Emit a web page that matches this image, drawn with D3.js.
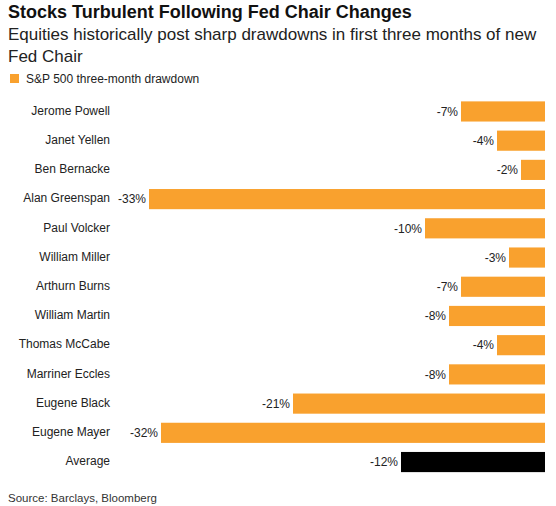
<!DOCTYPE html>
<html>
<head>
<meta charset="utf-8">
<script src="https://cdn.jsdelivr.net/npm/d3@7"></script>
<style>
  body { margin: 0; background: #fff; }
  svg { font-family: "Liberation Sans", Arial, sans-serif; }
</style>
</head>
<body>
<div id="chart"></div>
<script>
var chairs = ["Jerome Powell", "Janet Yellen", "Ben Bernacke", "Alan Greenspan", "Paul Volcker",
    "William Miller", "Arthurn Burns", "William Martin", "Thomas McCabe", "Marriner Eccles",
    "Eugene Black", "Eugene Mayer", "Average"];
var drawdown = [-7, -4, -2, -33, -10, -3, -7, -8, -4, -8, -21, -32, -12];
var valueLabels = ["-7%", "-4%", "-2%", "-33%", "-10%", "-3%", "-7%", "-8%", "-4%", "-8%", "-21%", "-32%", "-12%"];

var width = 556, height = 506;
var orange = "#f9a12e";

var svg = d3.select("#chart").append("svg")
    .attr("width", width)
    .attr("height", height);

// header
svg.append("text")
    .attr("x", 8).attr("y", 17.5)
    .style("font-size", "18px").style("font-weight", "bold")
    .attr("fill", "#111")
    .text("Stocks Turbulent Following Fed Chair Changes");

var sub = ["Equities historically post sharp drawdowns in first three months of new", "Fed Chair"];
svg.selectAll("text.sub")
    .data(sub)
    .enter().append("text")
    .attr("class", "sub")
    .attr("x", 8)
    .attr("y", function (d, i) { return 40 + i * 22; })
    .style("font-size", "17px")
    .attr("fill", "#222")
    .text(function (d) { return d; });

// legend
svg.append("rect")
    .attr("x", 10).attr("y", 74).attr("width", 9).attr("height", 9)
    .attr("fill", orange);
svg.append("text")
    .attr("x", 26).attr("y", 83)
    .style("font-size", "12px")
    .attr("fill", "#222")
    .text("S&P 500 three-month drawdown");

var x = d3.scaleLinear()
    .domain([-33, 0])
    .range([149, 545]);

var y = d3.scaleBand()
    .domain(chairs)
    .range([97, 476.5])
    .paddingInner(0.31)
    .paddingOuter(0.15);

var rows = svg.selectAll("g.row")
    .data(chairs)
    .enter().append("g")
    .attr("class", "row");

rows.append("rect")
    .attr("x", function (d, i) { return x(drawdown[i]); })
    .attr("y", function (d) { return y(d); })
    .attr("width", function (d, i) { return x(0) - x(drawdown[i]); })
    .attr("height", y.bandwidth())
    .attr("fill", function (d) { return d === "Average" ? "#000" : orange; });

rows.append("text")
    .attr("x", 110)
    .attr("y", function (d) { return y(d) + y.bandwidth() / 2 - 1; })
    .attr("dy", "0.35em")
    .attr("text-anchor", "end")
    .style("font-size", "12px")
    .attr("fill", "#222")
    .text(function (d) { return d; });

rows.append("text")
    .attr("x", function (d, i) { return x(drawdown[i]) - 3; })
    .attr("y", function (d) { return y(d) + y.bandwidth() / 2; })
    .attr("dy", "0.35em")
    .attr("text-anchor", "end")
    .style("font-size", "12px")
    .attr("fill", "#222")
    .text(function (d, i) { return valueLabels[i]; });

svg.append("text")
    .attr("x", 8).attr("y", 502)
    .style("font-size", "11.5px")
    .attr("fill", "#333")
    .text("Source: Barclays, Bloomberg");
</script>
</body>
</html>
